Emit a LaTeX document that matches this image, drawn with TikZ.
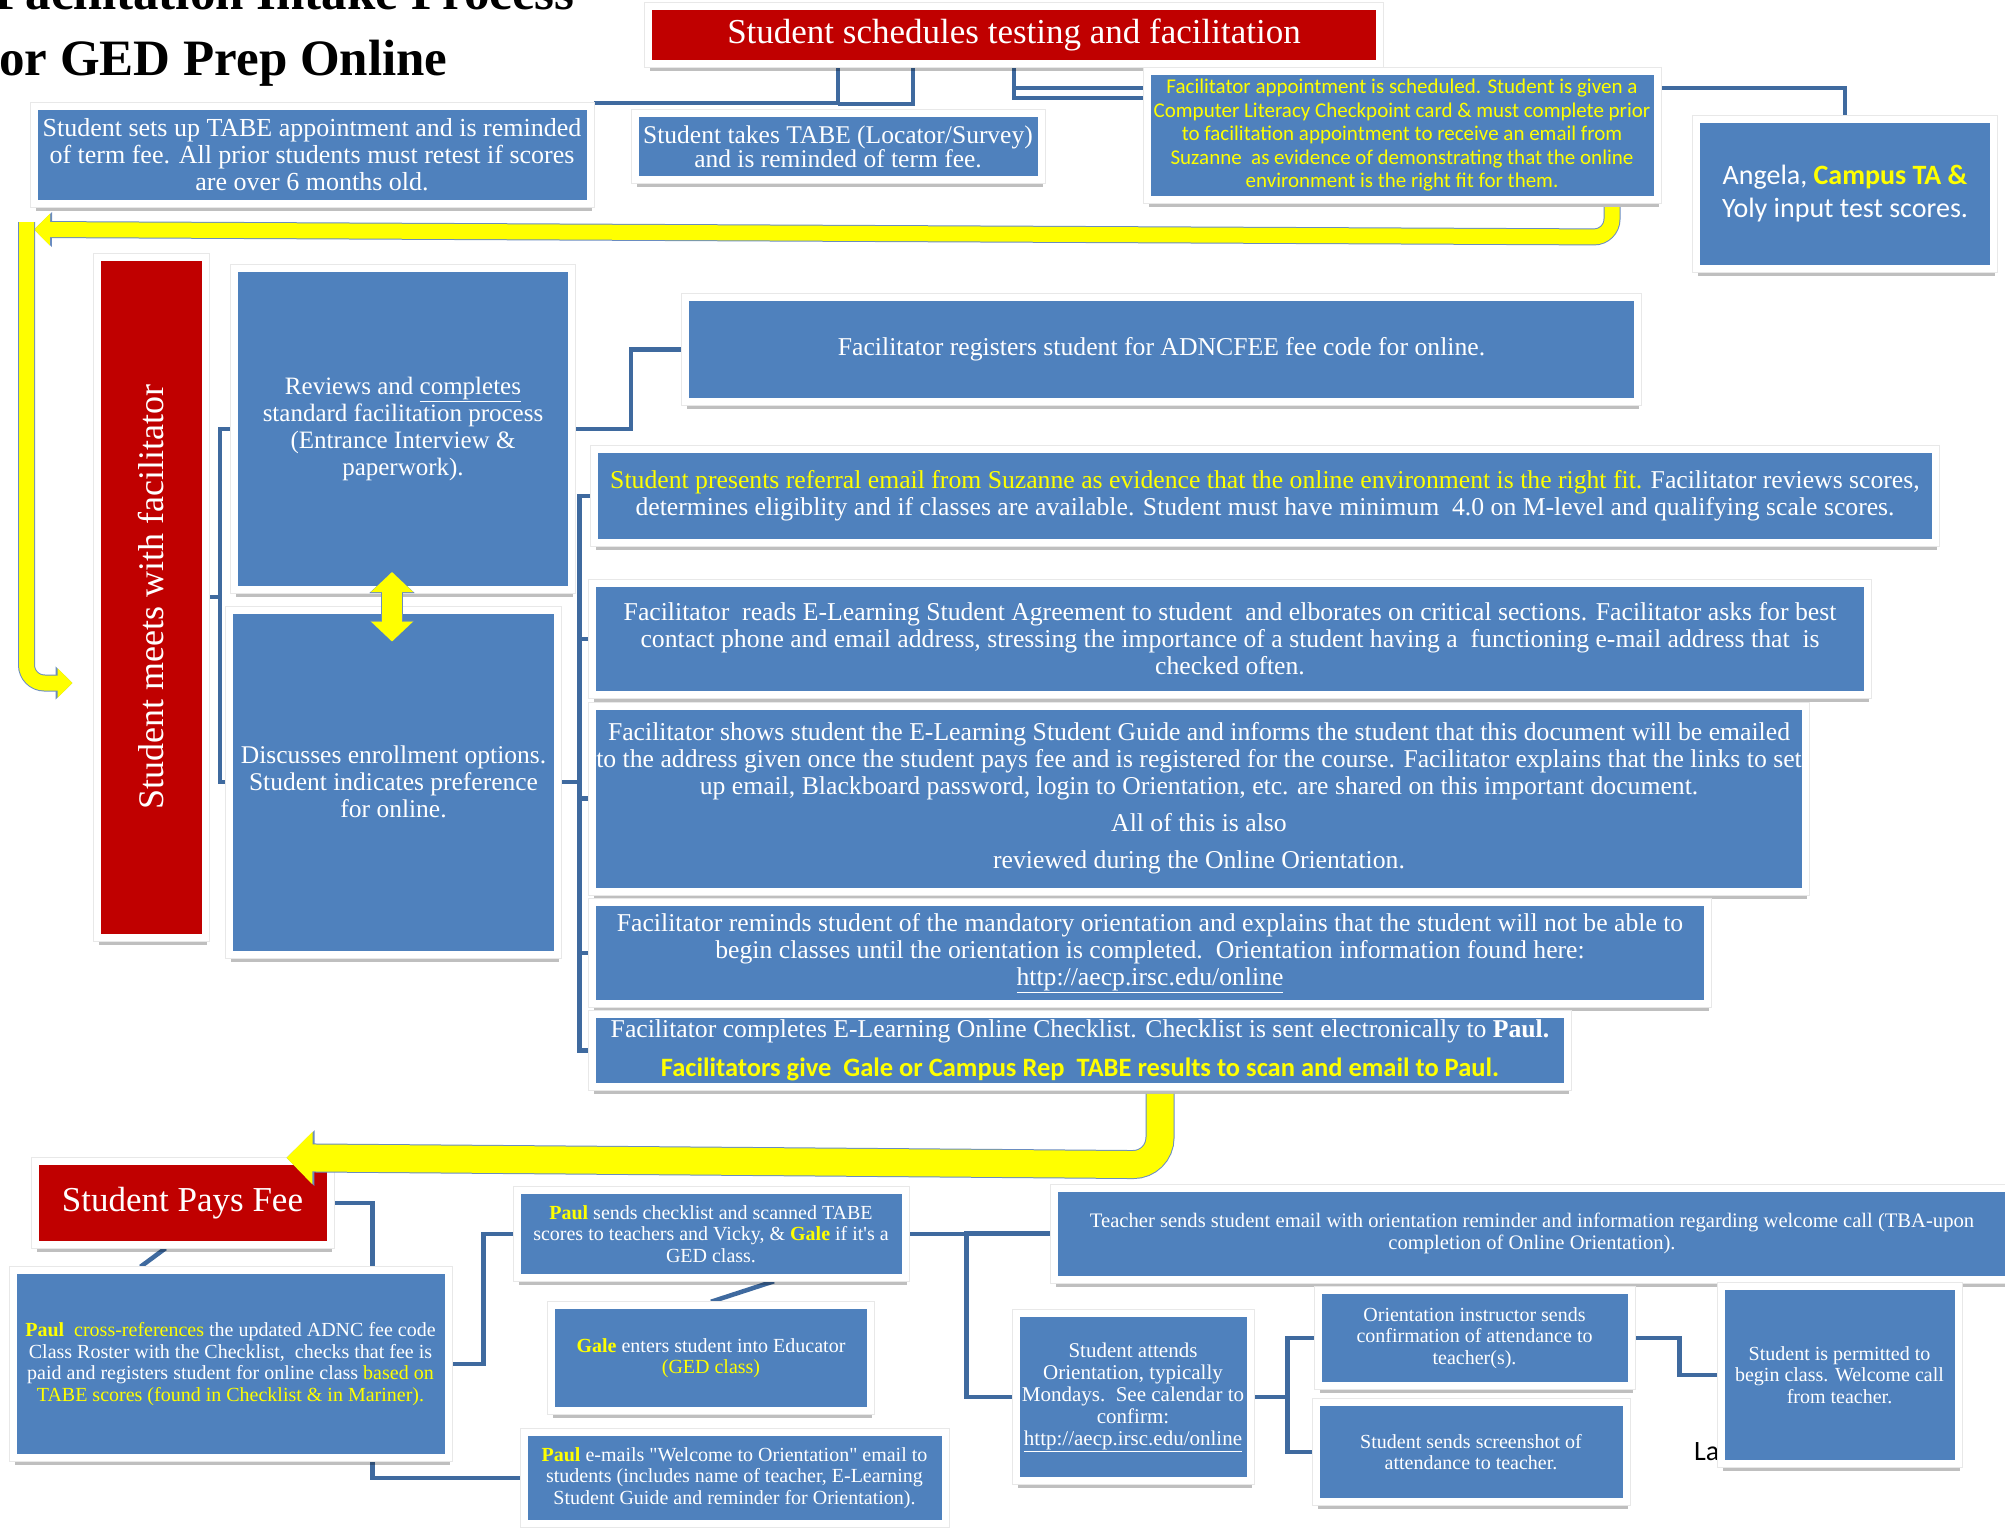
\documentclass[tikz,border=0pt]{standalone}
\usepackage{fontspec}
\setmainfont{Liberation Serif}
\newfontfamily\carlito{Carlito}
\usetikzlibrary{positioning,arrows.meta,shadows,backgrounds}

\definecolor{boxblue}{HTML}{4F81BD}
\definecolor{boxred}{HTML}{C00000}
\definecolor{linkblue}{HTML}{3F6A9F}
\definecolor{ylw}{HTML}{FFFF00}
\definecolor{ylwline}{HTML}{6A8CC0}

\tikzset{
  box/.style={draw=white, line width=7pt, fill=boxblue, text=white, align=center, inner sep=0pt,
    drop shadow={shadow xshift=1.5pt, shadow yshift=-7.5pt, opacity=.25, fill=black},
    preaction={draw=black!9, line width=9pt}},
  redbox/.style={box, fill=boxred},
  conn/.style={draw=linkblue, line width=4.5pt},
  title/.style={font=\fontsize{51}{60}\selectfont\bfseries},
  big/.style={font=\fontsize{26}{27}\selectfont},
  mid/.style={font=\fontsize{25.7}{27}\selectfont},
  small/.style={font=\fontsize{20}{21.5}\selectfont},
  sansy/.style={font=\fontsize{21}{23.5}\carlito},
  ybandline/.style={draw=ylwline, rounded corners=#1},
  yband/.style={draw=ylw, rounded corners=#1}
}

\begin{document}
\begin{tikzpicture}[x=1pt,y=-1pt]
\useasboundingbox (0,0) rectangle (2005,1528);

% Title
\node[title, anchor=base east] (ttl1) at (578,10) {Facilitation Intake Process};
\node[title, anchor=base east] (ttl2) at (451,75) {for GED Prep Online};

% Top row
\node[redbox, minimum width=730.5, minimum height=57, font=\fontsize{35}{37}\selectfont] (sched) at (1014,35) {Student schedules testing and facilitation};
\node[box, big, minimum width=556, minimum height=97] (setup) at (312,155) {Student sets up TABE appointment and is reminded\\ of term fee. All prior students must retest if scores\\ are over 6 months old.};
\node[box, font=\fontsize{25.5}{24}\selectfont, minimum width=406, minimum height=66] (tabe) at (838,146.5) {Student takes TABE (Locator/Survey)\\ and is reminded of term fee.};
\node[box, sansy, text=ylw, minimum width=510, minimum height=128] (fac) at (1402,135.5) {Facilitator appointment is scheduled. Student is given a\\ Computer Literacy Checkpoint card \& must complete prior\\ to facilitation appointment to receive an email from\\ Suzanne\ \ as evidence of demonstrating that the online\\ environment is the right fit for them.};
\node[box, font=\fontsize{28}{33}\carlito, minimum width=297, minimum height=149] (angela) at (1845,193.5) {Angela, \textbf{\textcolor{ylw}{Campus TA \&}}\\ Yoly input test scores.};

% Facilitator meeting
\node[redbox, minimum width=108, minimum height=680, font=\fontsize{36}{38}\selectfont] (meets) at (151.5,597) {\rotatebox{90}{Student meets with facilitator}};
\node[box, font=\fontsize{25}{27}\selectfont, minimum width=337, minimum height=321] (reviews) at (403,429) {Reviews and \underline{completes}\\ standard facilitation process\\ (Entrance Interview \&\\ paperwork).};
\node[box, font=\fontsize{25.5}{27}\selectfont, minimum width=328, minimum height=344] (discuss) at (393.5,782) {Discusses enrollment options.\\ Student indicates preference\\ for online.};

\node[box, mid, minimum width=952, minimum height=104] (reg) at (1161.5,349.5) {Facilitator registers student for ADNCFEE fee code for online.};
\node[box, mid, minimum width=1341, minimum height=93.5] (presents) at (1265,496) {\textcolor{ylw}{Student presents referral email from Suzanne as evidence that the online environment is the right fit.} Facilitator reviews scores,\\ determines eligiblity and if classes are available. Student must have minimum\ \ 4.0 on M-level and qualifying scale scores.};
\node[box, mid, minimum width=1275, minimum height=110.5] (agree) at (1230,639) {Facilitator\ \ reads E-Learning Student Agreement to student\ \ and elborates on critical sections. Facilitator asks for best\\ contact phone and email address, stressing the importance of a student having a\ \ functioning e-mail address that\ \ is\\ checked often.};
\node[box, mid, minimum width=1212.5, minimum height=185] (guide) at (1199,798.5) {Facilitator shows student the E-Learning Student Guide and informs the student that this document will be emailed\\ to the address given once the student pays fee and is registered for the course. Facilitator explains that the links to set\\ up email, Blackboard password, login to Orientation, etc. are shared on this important document.\\[10pt] All of this is also\\[10pt] reviewed during the Online Orientation.};
\node[box, mid, minimum width=1115, minimum height=101] (remind) at (1150,953) {Facilitator reminds student of the mandatory orientation and explains that the student will not be able to\\ begin classes until the orientation is completed.\ \ Orientation information found here:\\ \underline{http://aecp.irsc.edu/online}};
\node[box, mid, minimum width=975, minimum height=71.5] (check) at (1080,1050.5) {Facilitator completes E-Learning Online Checklist. Checklist is sent electronically to \textbf{Paul.}\\[12pt] {\fontsize{26.5}{27}\carlito\bfseries\color{ylw}Facilitators give\ \ Gale or Campus Rep\ \ TABE results to scan and email to Paul.}};

% Fee and orientation
\node[redbox, font=\fontsize{35}{37}\selectfont, minimum width=295, minimum height=83.5] (payfee) at (182.5,1203) {Student Pays Fee};
\node[box, small, minimum width=435, minimum height=187.5] (paul) at (230.5,1364) {\textcolor{ylw}{\textbf{Paul}\ \ cross-references} the updated ADNC fee code\\ Class Roster with the Checklist,\ \ checks that fee is\\ paid and registers student for online class \textcolor{ylw}{based on}\\ \textcolor{ylw}{TABE scores (found in Checklist \& in Mariner).}};
\node[box, small, minimum width=388, minimum height=87.5] (sends) at (711,1234) {\textcolor{ylw}{\textbf{Paul}} sends checklist and scanned TABE\\ scores to teachers and Vicky, \& \textcolor{ylw}{\textbf{Gale}} if it\textquotesingle s a\\ GED class.};
\node[box, small, minimum width=318.5, minimum height=105.5] (gale) at (711,1358) {\textcolor{ylw}{\textbf{Gale}} enters student into Educator\\ \textcolor{ylw}{(GED class)}};
\node[box, small, minimum width=421, minimum height=90.5] (emails) at (734.5,1478) {\textcolor{ylw}{\textbf{Paul}} e-mails \textquotedbl Welcome to Orientation\textquotedbl\ email to\\ students (includes name of teacher, E-Learning\\ Student Guide and reminder for Orientation).};
\node[box, font=\fontsize{20.6}{21.5}\selectfont, minimum width=955, minimum height=91] (teacher) at (1532,1233.5) {Teacher sends student email with orientation reminder and information regarding welcome call (TBA-upon\\ completion of Online Orientation).};
\node[box, font=\fontsize{21}{22}\selectfont, minimum width=234, minimum height=167.5] (attends) at (1133,1397) {Student attends\\ Orientation, typically\\ Mondays.\ \ See calendar to\\ confirm:\\ \underline{http://aecp.irsc.edu/online}};
\node[box, small, minimum width=313, minimum height=95] (orient) at (1474.5,1338) {Orientation instructor sends\\ confirmation of attendance to\\ teacher(s).};
\node[box, small, minimum width=310, minimum height=98.5] (shot) at (1471,1452) {Student sends screenshot of\\ attendance to teacher.};
\node[font=\fontsize{28}{30}\carlito, anchor=base west, inner sep=0pt] (lastword) at (1694,1460) {La};
\node[box, small, minimum width=237, minimum height=177] (permit) at (1839.5,1375) {Student is permitted to\\ begin class. Welcome call\\ from teacher.};

% Lines
\begin{scope}[on background layer]
\draw[conn] (sched.south -| tabe.north) |- (setup.north east);
\draw[conn] ([xshift=75pt]sched.south -| tabe.north) |- ([yshift=6pt]tabe.north);
\draw[conn] (sched.south) -- ++(0,21) -| (angela.north);
\draw[conn] (sched.south) |- ([yshift=37.5pt]fac.west);
\draw[conn] (meets.east) -- ++(11,0) |- (reviews.west);
\draw[conn] (meets.east) -- ++(11,0) |- (discuss.west);
\draw[conn] (reviews.east) -- ++(56,0) |- (reg.west);
\foreach \b in {presents,agree,guide,remind,check}
  \draw[conn] (discuss.east) -- ++(18.5,0) |- (\b.west);
\draw[conn] ([xshift=-17pt]payfee.south) -- ([xshift=-90pt]paul.north);
\draw[conn] (payfee.east) -| ([xshift=142pt]paul.north);
\draw[conn] (paul.east) -- ++(32,0) |- (sends.west);
\draw[conn] ([xshift=142pt]paul.south) |- (emails.west);
\draw[conn] ([xshift=63pt]sends.south) -- (gale.north);
\draw[conn] (sends.east) -- ++(58,0) |- (teacher.west);
\draw[conn] (sends.east) -- ++(58,0) |- (attends.west);
\draw[conn] (attends.east) -- ++(34,0) |- (orient.west);
\draw[conn] (attends.east) -- ++(34,0) |- (shot.west);
\draw[conn] (orient.east) -- ++(45,0) |- (permit.west);
\end{scope}

% Arrows
\coordinate (tipA) at (34,229.5);
\draw[ybandline=18pt, line width=17pt, -{Triangle[length=18pt,width=34pt]}] ([xshift=210pt,yshift=-4pt]fac.south) -- ++(0,30) -- (tipA);
\draw[yband=18pt, line width=15pt, -{Triangle[length=16pt,width=31pt]}] ([xshift=210pt,yshift=-4pt]fac.south) -- ++(0,30) -- (tipA);
\draw[ybandline=18pt, line width=17pt, -{Triangle[length=17pt,width=32pt]}] ([xshift=-7.5pt,yshift=7.5pt]tipA) -- ++(0,461) -- ([xshift=-21.5pt,yshift=-86pt]meets.west);
\draw[yband=18pt, line width=15pt, -{Triangle[length=15pt,width=29pt]}] ([xshift=-7.5pt,yshift=7.5pt]tipA) -- ++(0,461) -- ([xshift=-21.5pt,yshift=-86pt]meets.west);
\draw[ybandline=27pt, line width=29pt, -{Triangle[length=28pt,width=54pt]}] ([xshift=80pt,yshift=-4pt]check.south) -- ++(0,71) -- ([xshift=-47pt]payfee.north east);
\draw[yband=27pt, line width=27pt, -{Triangle[length=26pt,width=51pt]}] ([xshift=80pt,yshift=-4pt]check.south) -- ++(0,71) -- ([xshift=-47pt]payfee.north east);
\draw[ybandline=0pt, line width=22pt, {Triangle[length=21pt,width=44pt]}-{Triangle[length=21pt,width=44pt]}] ([xshift=-11pt,yshift=21pt]reviews.south) -- ([xshift=-1.5pt,yshift=-35pt]discuss.north);
\draw[yband=0pt, line width=20pt, {Triangle[length=20pt,width=41pt]}-{Triangle[length=20pt,width=41pt]}] ([xshift=-11pt,yshift=21pt]reviews.south) -- ([xshift=-1.5pt,yshift=-35pt]discuss.north);

\end{tikzpicture}
\end{document}
